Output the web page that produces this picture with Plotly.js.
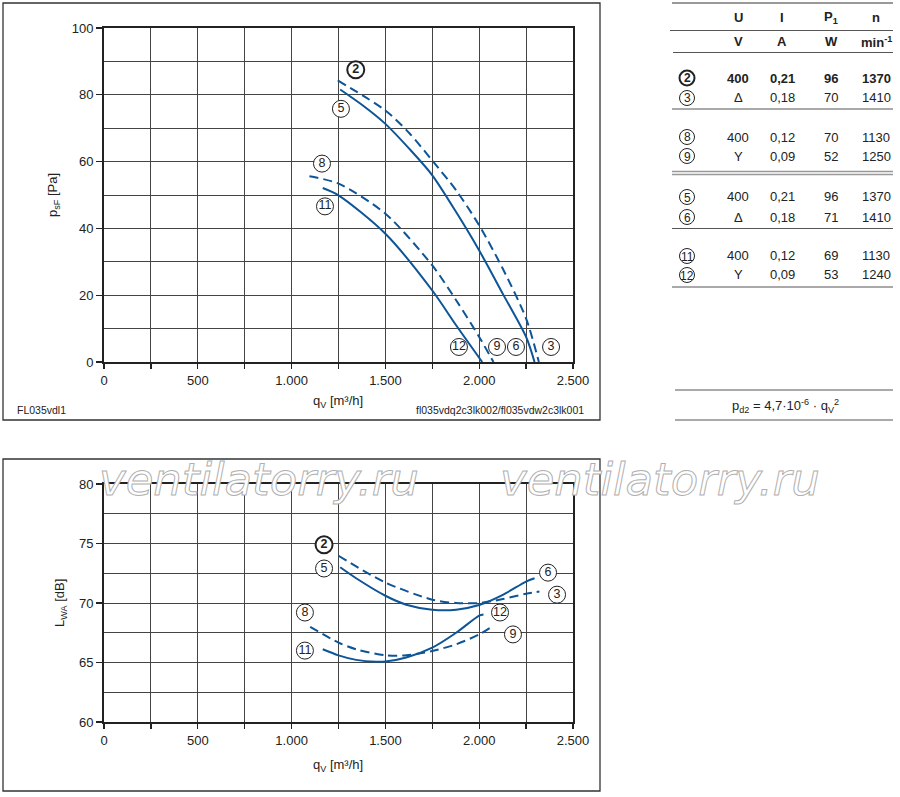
<!DOCTYPE html>
<html><head><meta charset="utf-8">
<script src="https://cdn.plot.ly/plotly-3.0.1.min.js"></script>
<style>html,body{margin:0;padding:0;background:#fff;}#chart{width:900px;height:797px;}</style>
</head><body><div id="chart"></div>
<script>
// ---- data ----
// Pressure curves (top chart): q_V [m³/h] vs p_sF [Pa]
const q2 = [1246, 1500, 1628, 1750, 1877, 2000, 2126, 2250, 2318];
const p2 = [84.3, 75.3, 68.5, 60.3, 51.4, 40.9, 27.9, 13.0, 0];
const q5 = [1259, 1380, 1500, 1628, 1750, 1877, 2000, 2126, 2250, 2295];
const p5 = [81.6, 76.8, 71.3, 63.8, 55.9, 44.9, 33.4, 20.4, 7.5, 0];
const q8 = [1095, 1250, 1500, 1750, 1877, 2000, 2076];
const p8 = [55.6, 53.4, 44.4, 28.9, 18.5, 7.5, 0];
const q11 = [1166, 1250, 1500, 1750, 1877, 2016];
const p11 = [52.1, 49.9, 38.4, 21.4, 11.0, 0];
// Sound power curves (bottom chart): q_V vs L_WA [dB]
const qs2 = [1250, 1500, 1750, 1877, 2000, 2126, 2250, 2321];
const L2 = [73.97, 71.72, 70.28, 70.0, 70.0, 70.33, 70.78, 70.97];
const qs5 = [1259, 1344, 1500, 1611, 1750, 1877, 2000, 2126, 2250, 2295];
const L5 = [73.0, 72.08, 70.61, 69.86, 69.44, 69.44, 69.83, 70.69, 71.8, 72.08];
const qs8 = [1099, 1250, 1344, 1500, 1611, 1750, 1877, 2000, 2076];
const L8 = [68.0, 66.67, 66.11, 65.61, 65.6, 65.97, 66.53, 67.36, 68.11];
const qs11 = [1166, 1250, 1344, 1451, 1500, 1611, 1750, 1877, 2000, 2023];
const L11 = [66.11, 65.6, 65.22, 65.06, 65.08, 65.42, 66.25, 67.5, 68.94, 69.03];
// Curve labels (circled numbers)
const topLabels = ['2', '5', '8', '11', '12', '9', '6', '3'];
const topLabelQ = [1342, 1263, 1162, 1178, 1892, 2095, 2196, 2383];
const topLabelP = [87.5, 75.8, 59.4, 46.6, 4.5, 4.5, 4.5, 4.5];
const botLabels = ['2', '5', '8', '11', '6', '3', '12', '9'];
const botLabelQ = [1173, 1173, 1071, 1071, 2367, 2415, 2111, 2180];
const botLabelL = [74.9, 72.9, 69.2, 66.0, 72.55, 70.7, 69.2, 67.36];
// Table
const tabHeadTop = ['U', 'I', 'P<sub>1</sub>', 'n'];
const tabHeadUnit = ['V', 'A', 'W', 'min<sup>-1</sup>'];
const tabIds = ['2', '3', '8', '9', '5', '6', '11', '12'];
const tabU = ['400', 'Δ', '400', 'Y', '400', 'Δ', '400', 'Y'];
const tabI = ['0,21', '0,18', '0,12', '0,09', '0,21', '0,18', '0,12', '0,09'];
const tabP = ['96', '70', '70', '52', '96', '71', '69', '53'];
const tabN = ['1370', '1410', '1130', '1250', '1370', '1410', '1130', '1240'];
const watermark = 'ventilatorry.ru';

// ---- helpers ----
const W = 900, H = 797;
const px = x => x / W, py = y => 1 - y / H;
const blue = '#0d5596';
const FONT = 'Liberation Sans, Arial, sans-serif';

function line(x, y, dash, xa, ya) {
  return {x: x, y: y, xaxis: xa, yaxis: ya, mode: 'lines', type: 'scatter',
    line: {color: blue, width: 2, shape: 'spline', smoothing: 0.8, dash: dash ? '9px,5px' : 'solid'},
    hoverinfo: 'skip', showlegend: false};
}
function labels(q, v, t, xa, ya, bold) {
  return {x: q, y: v, text: t.map(s => bold ? '<b>' + s + '</b>' : s), xaxis: xa, yaxis: ya,
    mode: 'markers+text', type: 'scatter', textposition: 'middle center', cliponaxis: false,
    marker: {symbol: 'circle', size: 17, color: '#fff', line: {color: '#222', width: bold ? 2 : 1}},
    textfont: {family: FONT, size: 12.5, color: '#222'}, hoverinfo: 'skip', showlegend: false};
}
const data = [
  line(q2, p2, true, 'x', 'y'), line(q5, p5, false, 'x', 'y'),
  line(q8, p8, true, 'x', 'y'), line(q11, p11, false, 'x', 'y'),
  line(qs2, L2, true, 'x2', 'y2'), line(qs5, L5, false, 'x2', 'y2'),
  line(qs8, L8, true, 'x2', 'y2'), line(qs11, L11, false, 'x2', 'y2'),
  labels(topLabelQ.slice(0, 1), topLabelP.slice(0, 1), topLabels.slice(0, 1), 'x', 'y', true),
  labels(topLabelQ.slice(1), topLabelP.slice(1), topLabels.slice(1), 'x', 'y', false),
  labels(botLabelQ.slice(0, 1), botLabelL.slice(0, 1), botLabels.slice(0, 1), 'x2', 'y2', true),
  labels(botLabelQ.slice(1), botLabelL.slice(1), botLabels.slice(1), 'x2', 'y2', false)
];

const ann = [];
function txt(x, y, t, opt) {
  ann.push(Object.assign({xref: 'paper', yref: 'paper', x: px(x), y: py(y), text: t,
    showarrow: false, xanchor: 'center', yanchor: 'middle',
    font: {family: FONT, size: 13, color: '#222'}}, opt || {}));
}
const shapes = [];
function circ(cx, cy, r, w) {
  shapes.push({type: 'circle', xref: 'paper', yref: 'paper', x0: px(cx - r), x1: px(cx + r),
    y0: py(cy + r), y1: py(cy - r), line: {color: '#222', width: w}, fillcolor: 'rgba(0,0,0,0)'});
}
function rect(x0, y0, x1, y1) {
  shapes.push({type: 'rect', xref: 'paper', yref: 'paper', x0: px(x0), x1: px(x1), y0: py(y0), y1: py(y1),
    line: {color: '#333', width: 1.3}, layer: 'below'});
}
function hl(x0, x1, y, c, w) {
  shapes.push({type: 'line', xref: 'paper', yref: 'paper', x0: px(x0), x1: px(x1), y0: py(y), y1: py(y),
    line: {color: c || '#555', width: w || 1}});
}

// watermark (outlined after render)
[259, 660].forEach(x => txt(x, 479, watermark,
  {font: {family: 'DejaVu Sans, sans-serif', size: 45, style: 'italic', color: '#c8c8c8'}}));

// axis titles and frame texts
txt(338, 402, 'q<sub>V</sub> [m³/h]');
txt(53, 195, 'p<sub>sF</sub> [Pa]', {textangle: -90});
txt(338, 765, 'q<sub>V</sub> [m³/h]');
txt(60, 603, 'L<sub>WA</sub> [dB]', {textangle: -90});
txt(15, 410, 'FL035vdl1', {xanchor: 'left', font: {family: FONT, size: 10.5, color: '#222'}});
txt(586, 410, 'fl035vdq2c3lk002/fl035vdw2c3lk001', {xanchor: 'right', font: {family: FONT, size: 10.5, color: '#222'}});

// table
const colX = [738, 782, 831, 876];
tabHeadTop.forEach((t, i) => txt(colX[i], 17, t, {font: {family: FONT, size: 13, color: '#222', weight: 'bold'}}));
tabHeadUnit.forEach((t, i) => txt(colX[i], 42, t, {font: {family: FONT, size: 13, color: '#222', weight: 'bold'}}));
const rowY = [78, 98, 137, 156, 197, 217, 256, 275];
tabIds.forEach((t, i) => {
  const b = i === 0 ? 'bold' : 'normal';
  circ(687, rowY[i], 7.5, i === 0 ? 2 : 1);
  txt(687, rowY[i] + 0.5, t, {font: {family: FONT, size: 12, color: '#222', weight: b}});
  txt(colX[0], rowY[i], tabU[i], {font: {family: FONT, size: 13, color: '#222', weight: b}});
  txt(colX[1], rowY[i], tabI[i], {font: {family: FONT, size: 13, color: '#222', weight: b}});
  txt(colX[2], rowY[i], tabP[i], {font: {family: FONT, size: 13, color: '#222', weight: b}});
  txt(colX[3], rowY[i], tabN[i], {font: {family: FONT, size: 13, color: '#222', weight: b}});
});
txt(785, 406, 'p<sub>d2</sub> = 4,7·10<sup>-6</sup> · q<sub>V</sub><sup>2</sup>');

rect(3, 3, 600, 420);
rect(3, 459, 600, 791);
hl(672, 893, 3, '#999', 2);
hl(670, 893, 30.5, '#555', 1);
hl(673, 893, 52.5, '#555', 1);
hl(672, 893, 109, '#555', 1);
hl(672, 893, 171.5, '#999', 1.5);
hl(672, 893, 174.5, '#999', 1.5);
hl(672, 893, 228.5, '#555', 1);
hl(672, 893, 287, '#555', 1);
hl(675, 893, 390, '#555', 1);
hl(675, 893, 420, '#555', 1);

const xdom = [px(104), px(573)];
function xax(anchor) {
  return {domain: xdom, anchor: anchor, range: [0, 2500], dtick: 500, tick0: 0, tickformat: ',d',
    ticks: 'outside', ticklen: 5, tickcolor: '#222', tickwidth: 1.2,
    showgrid: true, gridcolor: '#444', gridwidth: 1,
    minor: {dtick: 250, ticks: 'outside', ticklen: 5, tickcolor: '#222', showgrid: true, gridcolor: '#444', gridwidth: 1},
    showline: true, linecolor: '#222', linewidth: 2, mirror: true, zeroline: false,
    tickfont: {family: FONT, size: 13, color: '#222'}, fixedrange: true};
}
function yax(anchor, dom, range, dtick, mdt) {
  return {domain: dom, anchor: anchor, range: range, dtick: dtick, tick0: 0,
    ticks: 'outside', ticklen: 6, tickcolor: '#222', tickwidth: 1.2,
    showgrid: true, gridcolor: '#444', gridwidth: 1,
    minor: {dtick: mdt, showgrid: true, gridcolor: '#444', gridwidth: 1},
    showline: true, linecolor: '#222', linewidth: 2, mirror: true, zeroline: false,
    tickfont: {family: FONT, size: 13, color: '#222'}, fixedrange: true};
}

const layout = {
  width: W, height: H, margin: {l: 0, r: 0, t: 0, b: 0},
  paper_bgcolor: '#fff', plot_bgcolor: '#fff', separators: ',.',
  showlegend: false,
  xaxis: xax('y'),
  yaxis: yax('x', [py(362), py(28)], [0, 100], 20, 10),
  xaxis2: xax('y2'),
  yaxis2: yax('x2', [py(722), py(484)], [60, 80], 5, 2.5),
  annotations: ann, shapes: shapes
};
Plotly.newPlot('chart', data, layout, {staticPlot: true, displayModeBar: false}).then(gd => {
  gd.querySelectorAll('.annotation-text').forEach(el => {
    if (el.textContent === watermark) {
      el.style.fill = '#ffffff';
      el.style.stroke = '#b0b0b0';
      el.style.strokeWidth = '1px';
    }
  });
});
</script></body></html>
